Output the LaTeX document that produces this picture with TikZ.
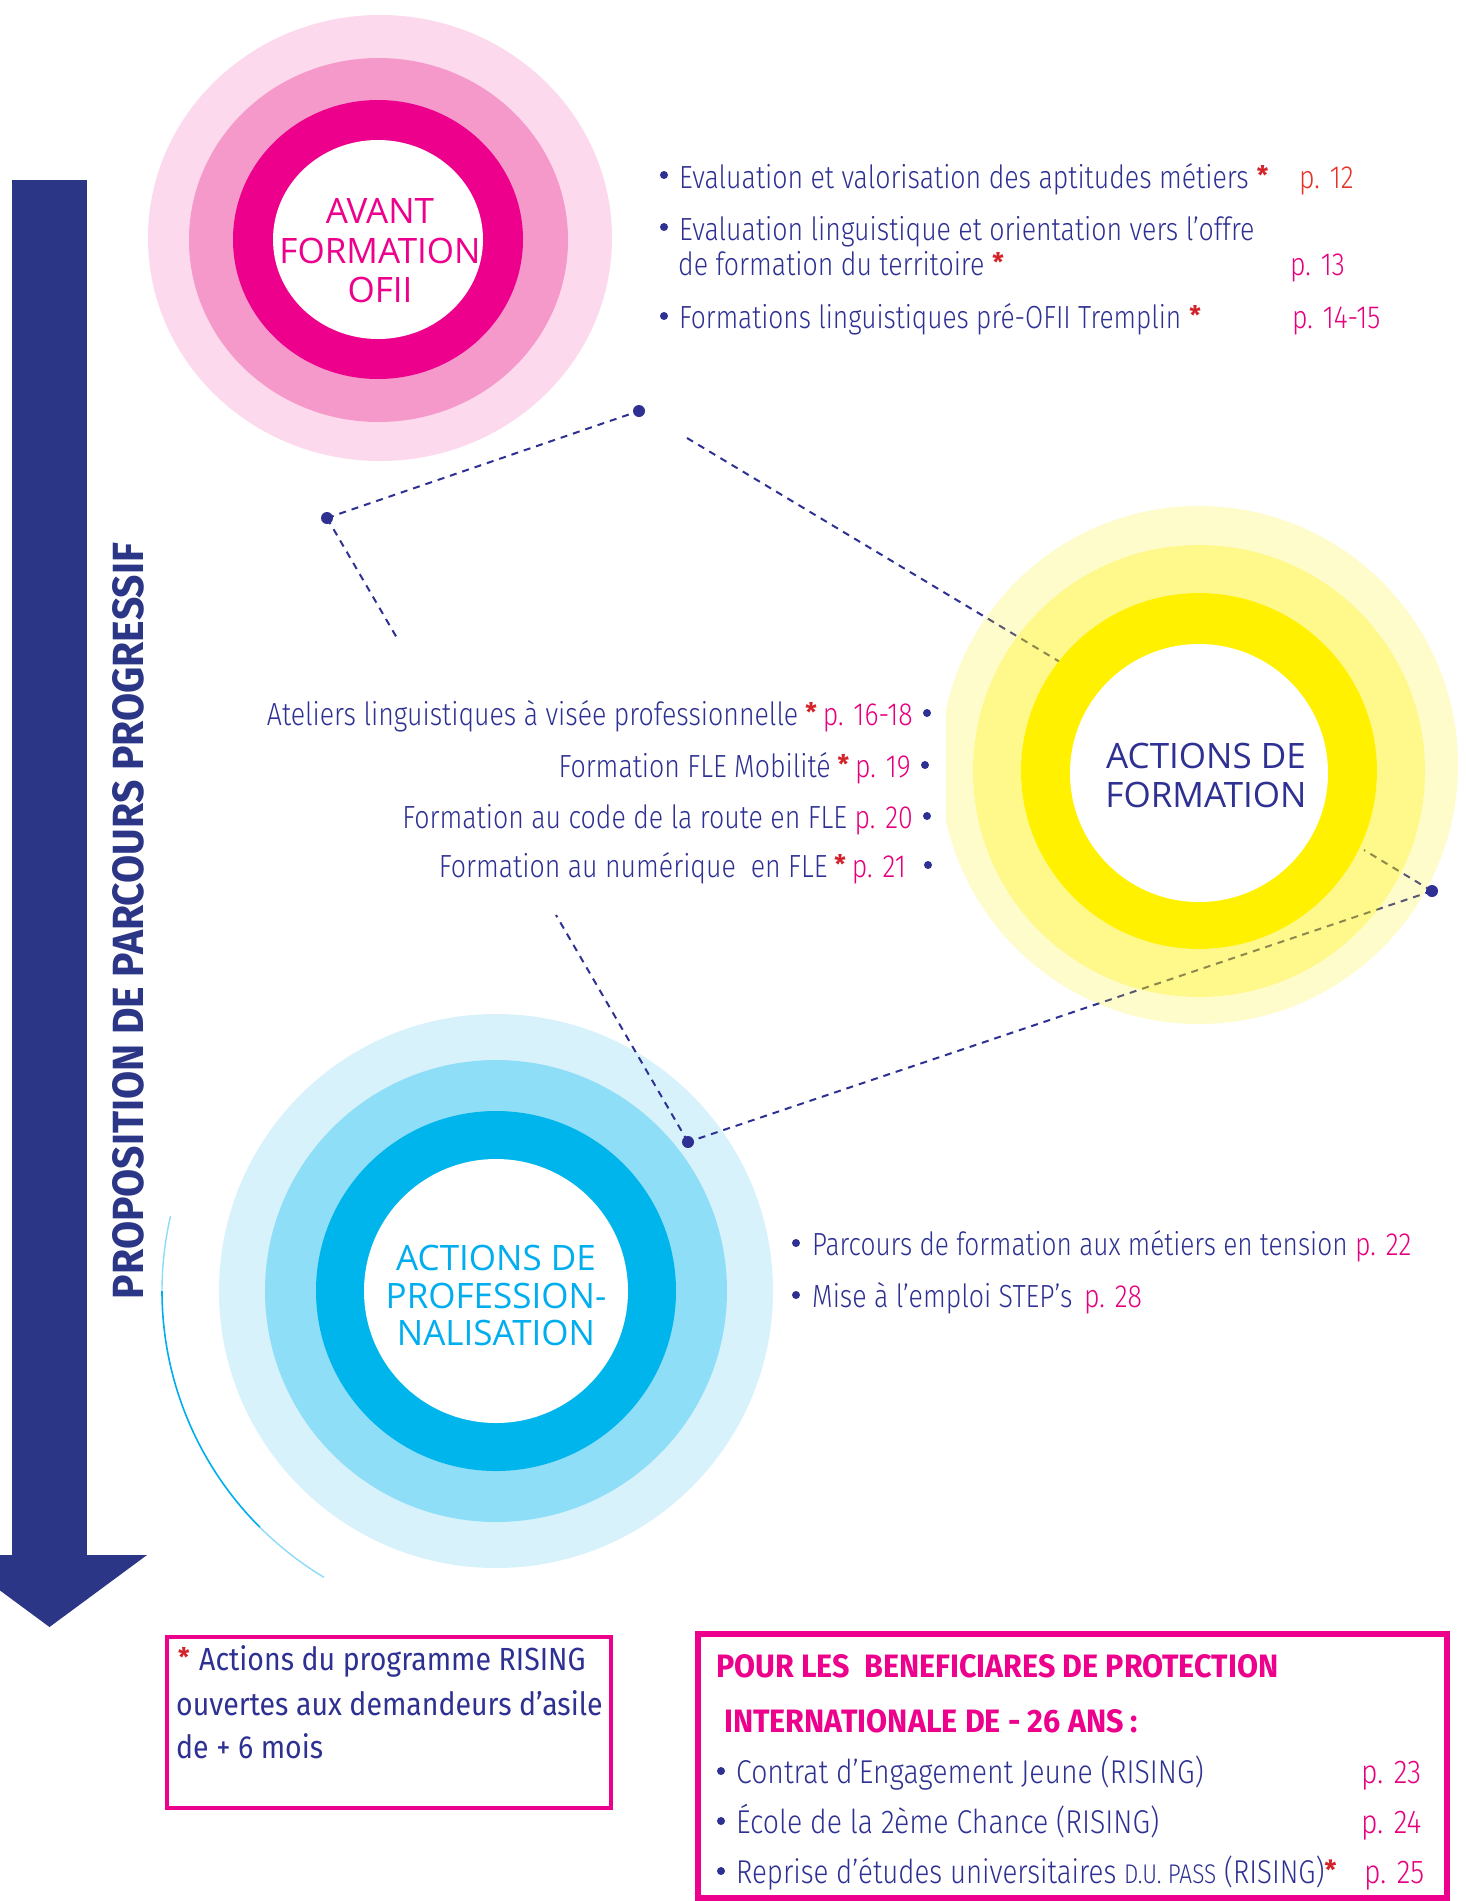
\documentclass[tikz,border=0pt]{standalone}
\usepackage{fontspec}
\usepackage{graphicx}
\setmainfont{Fira Sans}
\newfontfamily\listfont{Fira Sans Light}[FakeStretch=0.835]
\newfontfamily\listfontB{Fira Sans Light}[FakeStretch=0.86]
\newfontfamily\regfont{Fira Sans}
\newfontfamily\heavyfont{Fira Sans}
\newfontfamily\circfont{Open Sans}
\newfontfamily\boxfont{Fira Sans}[FakeStretch=0.89]
\definecolor{cNavy}{RGB}{46,49,146}
\definecolor{cArrow}{RGB}{44,54,134}
\definecolor{cMag}{RGB}{236,0,140}
\definecolor{cPg}{RGB}{230,0,126}
\definecolor{cRed}{RGB}{230,51,42}
\definecolor{cAst}{RGB}{210,35,42}
\definecolor{cPinkA}{RGB}{252,217,236}
\definecolor{cPinkB}{RGB}{245,152,202}
\definecolor{cPinkC}{RGB}{236,0,140}
\definecolor{cBlueA}{RGB}{216,242,252}
\definecolor{cBlueB}{RGB}{143,222,248}
\definecolor{cBlueC}{RGB}{0,181,236}
\definecolor{cCyanT}{RGB}{0,174,239}
\definecolor{cYel}{RGB}{255,241,0}
\newcommand\rast{{\regfont\bfseries\textcolor{cAst}{\raisebox{4pt}{\scalebox{0.8}{*}}}}}
\begin{document}
\begin{tikzpicture}[x=1pt,y=-1pt,
  lst/.style={inner sep=0pt, anchor=base west, text=cNavy, font=\listfont\fontsize{32}{36}\selectfont},
  lstB/.style={lst, font=\listfontB\fontsize{33}{36}\selectfont},
  lstR/.style={lst, anchor=base east},
  pgn/.style={lst, text=cPg},
  pgnB/.style={lstB, text=cPg},
  bul/.style={circle, fill=cNavy, inner sep=0pt, minimum size=8pt},
  dline/.style={cNavy, line width=2pt, dash pattern=on 7pt off 6pt},
  ddot/.style={circle, fill=cNavy, inner sep=0pt, minimum size=12pt},
  ctxt/.style={inner sep=0pt, anchor=base, font=\circfont\fontsize{35}{40}\selectfont},
  btxt/.style={inner sep=0pt, anchor=base west, text=cNavy, font=\boxfont\fontsize{32}{36}\selectfont},
  htxt/.style={inner sep=0pt, anchor=base west, text=cMag, font=\heavyfont\bfseries}]
\useasboundingbox (0,0) rectangle (1465,1901);
\clip (0,0) rectangle (1465,1901);
\fill[white] (0,0) rectangle (1465,1901);

% arrow
\fill[cArrow] (12,180) rectangle (87,1556);
\fill[cArrow] (-48,1555) -- (147,1555) -- (49.5,1627) -- cycle;
\node[rotate=90, inner sep=0pt, text=cArrow] (vt) at (128.5,921)
  {\resizebox{756pt}{31pt}{\heavyfont\bfseries PROPOSITION DE PARCOURS PROGRESSIF}};

% pink rings
\fill[cPinkA] (380,238) ellipse [x radius=232, y radius=223];
\fill[cPinkB] (378.5,240) ellipse [x radius=189.5, y radius=182];
\fill[cPinkC] (378,239.5) ellipse [x radius=145, y radius=139.5];
\fill[white] (378,239.5) ellipse [x radius=105, y radius=99.5];

% blue rings
\fill[cBlueA] (496,1291) circle [radius=277];
\fill[cBlueB] (496,1291) circle [radius=231];
\fill[cBlueC] (496,1291) circle [radius=180];
\fill[white] (496,1291) circle [radius=132];
\draw[cCyanT!45, line width=1.4pt] (496,1291) ++(121:334) arc[start angle=121, end angle=135, radius=334];
\draw[cCyanT, line width=1.6pt] (496,1291) ++(135:334) arc[start angle=135, end angle=180, radius=334];
\draw[cCyanT!45, line width=1.4pt] (496,1291) ++(180:334) arc[start angle=180, end angle=193, radius=334];

% connectors
\coordinate (d1) at (639,411);
\coordinate (d2) at (327,518);
\coordinate (e1) at (397,638);
\coordinate (f1) at (687,438);
\coordinate (f2) at (1060,662);
\coordinate (d3) at (1432,891);
\coordinate (g1) at (1364,850);
\coordinate (d4) at (688,1142);
\coordinate (h1) at (556,915);
\draw[dline] (d2) -- (d1);
\draw[dline] (d2) -- (e1);
\draw[dline] (f1) -- (f2);
\draw[dline] (d3) -- (g1);
\draw[dline] (d3) -- (d4);
\draw[dline] (d4) -- (h1);

% yellow rings
\begin{scope}
  \clip (946,0) rectangle (1465,1901);
  \fill[cYel, fill opacity=0.2, even odd rule] (1199,765) circle [radius=259] (1199,771) circle [radius=226];
\end{scope}
\fill[cYel, fill opacity=0.46, even odd rule] (1199,771) circle [radius=226] (1199,771) circle [radius=178];
\fill[cYel] (1199,771) circle [radius=178];
\fill[white] (1199,773) circle [radius=129];

% dots
\node[ddot] (n1) at (d1) {};
\node[ddot] (n2) at (d2) {};
\node[ddot] (n3) at (d3) {};
\node[ddot] (n4) at (d4) {};

% circle labels
\node[ctxt, text=cPinkC] (pa) at (380,223) {AVANT};
\node[ctxt, text=cPinkC] (pb) at (380,263) {FORMATION};
\node[ctxt, text=cPinkC] (pc) at (380,302) {OFII};
\node[ctxt, text=cNavy] (ya) at (1206,768) {ACTIONS DE};
\node[ctxt, text=cNavy] (yb) at (1206,807) {FORMATION};
\node[ctxt, text=cCyanT] (ba) at (496,1270) {ACTIONS DE};
\node[ctxt, text=cCyanT] (bb) at (496,1308) {PROFESSION-};
\node[ctxt, text=cCyanT] (bc) at (496,1345) {NALISATION};

% top list
\node[bul] (tb1) at (664,175) {};
\node[lst] (t1) at (679,188) {Evaluation et valorisation des aptitudes métiers\hspace{8pt}\rast};
\node[pgn, text=cRed] (t1p) at (1299,188) {p. 12};
\node[bul] (tb2) at (664,227) {};
\node[lst] (t2) at (679,240) {Evaluation linguistique et orientation vers l’offre};
\node[lst] (t2b) at (678,275) {de formation du territoire\hspace{8pt}\rast};
\node[pgn] (t2p) at (1290,275) {p. 13};
\node[bul] (tb3) at (664,316) {};
\node[lst] (t3) at (679,328) {\scalebox{0.985}[1]{Formations linguistiques pré-OFII Tremplin}\hspace{8pt}\rast};
\node[pgn] (t3p) at (1292,328) {p. 14-15};

% middle list
\node[lstR] (m1) at (913,725) {Ateliers linguistiques à visée professionnelle\hspace{7pt}\rast\hspace{6pt}\textcolor{cPg}{p. 16-18}};
\node[bul] (mb1) at (927,713) {};
\node[lstR] (m2) at (911,777) {Formation FLE Mobilité\hspace{7pt}\rast\hspace{6pt}\textcolor{cPg}{p. 19}};
\node[bul] (mb2) at (925,765) {};
\node[lstR] (m3) at (913,828) {Formation au code de la route en FLE \textcolor{cPg}{p. 20}};
\node[bul] (mb3) at (927,816) {};
\node[lstR] (m4) at (906,877) {Formation au numérique\ \ en FLE\hspace{7pt}\rast\hspace{6pt}\textcolor{cPg}{p. 21}};
\node[bul] (mb4) at (928,865) {};

% lower list
\node[bul] (lb1) at (796,1243) {};
\node[lst] (l1) at (812,1255) {\scalebox{0.982}[1]{Parcours de formation aux métiers en tension}};
\node[pgn] (l1p) at (1355,1255) {p. 22};
\node[bul] (lb2) at (796,1295) {};
\node[lst] (l2) at (812,1307) {Mise à l’emploi STEP’s};
\node[pgn] (l2p) at (1084,1307) {p. 28};

% bottom-left box
\draw[cMag, line width=4pt] (167,1637) rectangle (611,1808);
\node[btxt] (k0) at (178,1670) {\rast};
\node[btxt] (k1) at (199,1670) {Actions du programme RISING};
\node[btxt] (k2) at (176,1715) {ouvertes aux demandeurs d’asile};
\node[btxt] (k3) at (176,1758) {de + 6 mois};

% bottom-right box
\draw[cMag, line width=6pt] (698,1634) rectangle (1447,1898);
\node[htxt] (r0) at (716,1677) {\resizebox{562pt}{23pt}{\heavyfont\bfseries POUR LES\ \ BENEFICIARES DE PROTECTION}};
\node[htxt] (r00) at (724,1732) {\resizebox{414pt}{23pt}{\heavyfont\bfseries INTERNATIONALE DE - 26 ANS :}};
\node[bul] (rb1) at (721,1771) {};
\node[lstB] (r1) at (736,1783) {Contrat d’Engagement Jeune (RISING)};
\node[pgnB] (r1p) at (1361,1783) {p. 23};
\node[bul] (rb2) at (721,1821) {};
\node[lstB] (r2) at (736,1833) {École de la 2ème Chance (RISING)};
\node[pgnB] (r2p) at (1361,1833) {p. 24};
\node[bul] (rb3) at (721,1871) {};
\node[lstB] (r3) at (736,1883) {\scalebox{0.975}[1]{Reprise d’études universitaires {\fontsize{27}{30}\selectfont D.U. PASS} (RISING)}\rast};
\node[pgnB] (r3p) at (1364,1883) {p. 25};
\end{tikzpicture}
\end{document}
